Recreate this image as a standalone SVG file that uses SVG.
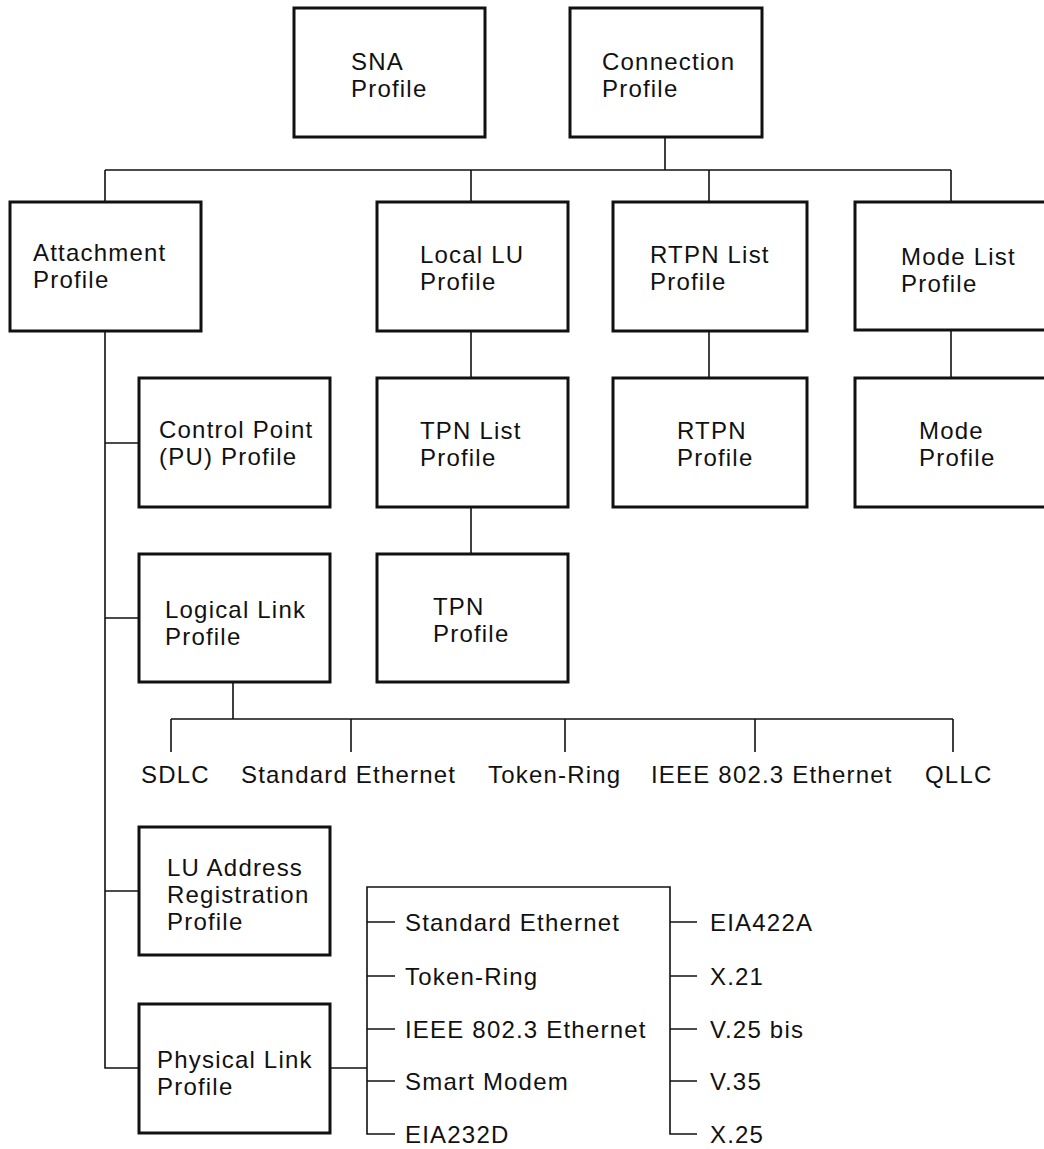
<svg xmlns="http://www.w3.org/2000/svg" width="1044" height="1149" viewBox="0 0 1044 1149">
<style>
.box{fill:#fff;stroke:#111;stroke-width:3}
.ln{fill:none;stroke:#111;stroke-width:1.6}
text{font-family:"Liberation Sans",Arial,Helvetica,sans-serif;font-size:24px;letter-spacing:1.2px;fill:#111}
</style>
<rect width="1044" height="1149" fill="#fff"/>
<g id="connectors">
<path class="ln" d="M665,137V170M105,170H951M105,170V202M471,170V202M709,170V202M951,170V202"/>
<path class="ln" d="M105,331V1068H139M105,443H139M105,618H139M105,891H139"/>
<path class="ln" d="M471,331V378M709,331V378M951,330V378M471,507V554"/>
<path class="ln" d="M233,682V719M171,719H953M171,719V752M351,719V752M565,719V752M755,719V752M953,719V752"/>
<path class="ln" d="M330,1068H367"/>
<path class="ln" d="M395,1134H367V887H670V1134H697"/>
<path class="ln" d="M367,922H395M367,976H395M367,1029H395M367,1081H395"/>
<path class="ln" d="M670,922H697M670,976H697M670,1029H697M670,1081H697"/>
</g>
<g id="sna"><rect class="box" x="294" y="8" width="191" height="129"/><text x="351" y="70">SNA</text><text x="351" y="97">Profile</text></g>
<g id="connection"><rect class="box" x="570" y="8" width="192" height="129"/><text x="602" y="70">Connection</text><text x="602" y="97">Profile</text></g>
<g id="attachment"><rect class="box" x="10" y="202" width="191" height="129"/><text x="33" y="261">Attachment</text><text x="33" y="288">Profile</text></g>
<g id="locallu"><rect class="box" x="377" y="202" width="191" height="129"/><text x="420" y="263">Local LU</text><text x="420" y="290">Profile</text></g>
<g id="rtpnlist"><rect class="box" x="613" y="202" width="194" height="129"/><text x="650" y="263">RTPN List</text><text x="650" y="290">Profile</text></g>
<g id="modelist"><rect class="box" x="855" y="202" width="200" height="128"/><text x="901" y="265">Mode List</text><text x="901" y="292">Profile</text></g>
<g id="controlpoint"><rect class="box" x="139" y="378" width="191" height="129"/><text x="159" y="438">Control Point</text><text x="159" y="465">(PU) Profile</text></g>
<g id="tpnlist"><rect class="box" x="377" y="378" width="191" height="129"/><text x="420" y="439">TPN List</text><text x="420" y="466">Profile</text></g>
<g id="rtpn"><rect class="box" x="613" y="378" width="194" height="129"/><text x="677" y="439">RTPN</text><text x="677" y="466">Profile</text></g>
<g id="mode"><rect class="box" x="855" y="378" width="200" height="129"/><text x="919" y="439">Mode</text><text x="919" y="466">Profile</text></g>
<g id="logicallink"><rect class="box" x="139" y="554" width="191" height="128"/><text x="165" y="618">Logical Link</text><text x="165" y="645">Profile</text></g>
<g id="tpn"><rect class="box" x="377" y="554" width="191" height="128"/><text x="433" y="615">TPN</text><text x="433" y="642">Profile</text></g>
<g id="luaddress"><rect class="box" x="139" y="827" width="191" height="128"/><text x="167" y="876">LU Address</text><text x="167" y="903">Registration</text><text x="167" y="930">Profile</text></g>
<g id="physicallink"><rect class="box" x="139" y="1004" width="191" height="129"/><text x="157" y="1068">Physical Link</text><text x="157" y="1095">Profile</text></g>
<g id="logical-types">
<text x="141" y="783">SDLC</text>
<text x="241" y="783">Standard Ethernet</text>
<text x="488" y="783">Token-Ring</text>
<text x="651" y="783">IEEE 802.3 Ethernet</text>
<text x="925" y="783">QLLC</text>
</g>
<g id="physical-types">
<text x="405" y="931">Standard Ethernet</text>
<text x="405" y="985">Token-Ring</text>
<text x="405" y="1038">IEEE 802.3 Ethernet</text>
<text x="405" y="1090">Smart Modem</text>
<text x="405" y="1143">EIA232D</text>
<text x="710" y="931">EIA422A</text>
<text x="710" y="985">X.21</text>
<text x="710" y="1038">V.25 bis</text>
<text x="710" y="1090">V.35</text>
<text x="710" y="1143">X.25</text>
</g>
</svg>
